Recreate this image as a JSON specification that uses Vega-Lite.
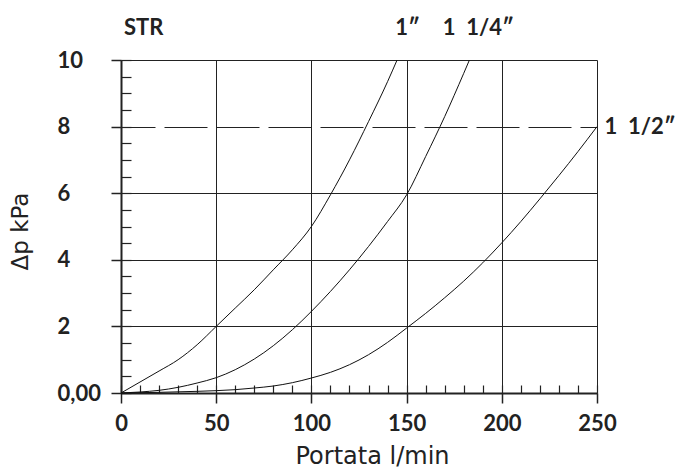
{
  "$schema": "https://vega.github.io/schema/vega-lite/v6.json",
  "width": 476,
  "height": 333,
  "autosize": {"type": "none"},
  "padding": {"left": 121, "top": 60, "right": 87, "bottom": 76},
  "background": "white",
  "config": {"font": "Lato", "view": {"stroke": null}},
  "datasets": {
    "curves": [
      {"size": "1″", "q": 0, "dp": 0}, {"size": "1″", "q": 10, "dp": 0.33}, {"size": "1″", "q": 20, "dp": 0.66},
      {"size": "1″", "q": 30, "dp": 1.0}, {"size": "1″", "q": 40, "dp": 1.45}, {"size": "1″", "q": 50, "dp": 2.0},
      {"size": "1″", "q": 60, "dp": 2.55}, {"size": "1″", "q": 70, "dp": 3.1}, {"size": "1″", "q": 80, "dp": 3.7},
      {"size": "1″", "q": 90, "dp": 4.3}, {"size": "1″", "q": 100, "dp": 5.0}, {"size": "1″", "q": 110, "dp": 5.95},
      {"size": "1″", "q": 120, "dp": 7.0}, {"size": "1″", "q": 130, "dp": 8.15}, {"size": "1″", "q": 140, "dp": 9.35},
      {"size": "1″", "q": 145, "dp": 10},
      {"size": "1 1/4″", "q": 0, "dp": 0}, {"size": "1 1/4″", "q": 10, "dp": 0.03}, {"size": "1 1/4″", "q": 20, "dp": 0.08},
      {"size": "1 1/4″", "q": 30, "dp": 0.17}, {"size": "1 1/4″", "q": 40, "dp": 0.3}, {"size": "1 1/4″", "q": 50, "dp": 0.46},
      {"size": "1 1/4″", "q": 60, "dp": 0.7}, {"size": "1 1/4″", "q": 70, "dp": 1.02}, {"size": "1 1/4″", "q": 80, "dp": 1.42},
      {"size": "1 1/4″", "q": 90, "dp": 1.9}, {"size": "1 1/4″", "q": 100, "dp": 2.45}, {"size": "1 1/4″", "q": 110, "dp": 3.05},
      {"size": "1 1/4″", "q": 120, "dp": 3.7}, {"size": "1 1/4″", "q": 130, "dp": 4.4}, {"size": "1 1/4″", "q": 140, "dp": 5.15},
      {"size": "1 1/4″", "q": 150, "dp": 5.95}, {"size": "1 1/4″", "q": 160, "dp": 7.1}, {"size": "1 1/4″", "q": 170, "dp": 8.3},
      {"size": "1 1/4″", "q": 180, "dp": 9.6}, {"size": "1 1/4″", "q": 183, "dp": 10},
      {"size": "1 1/2″", "q": 0, "dp": 0}, {"size": "1 1/2″", "q": 10, "dp": 0.01}, {"size": "1 1/2″", "q": 20, "dp": 0.02},
      {"size": "1 1/2″", "q": 30, "dp": 0.035}, {"size": "1 1/2″", "q": 40, "dp": 0.05}, {"size": "1 1/2″", "q": 50, "dp": 0.07},
      {"size": "1 1/2″", "q": 60, "dp": 0.1}, {"size": "1 1/2″", "q": 70, "dp": 0.15}, {"size": "1 1/2″", "q": 80, "dp": 0.21},
      {"size": "1 1/2″", "q": 90, "dp": 0.31}, {"size": "1 1/2″", "q": 100, "dp": 0.45}, {"size": "1 1/2″", "q": 110, "dp": 0.62},
      {"size": "1 1/2″", "q": 120, "dp": 0.85}, {"size": "1 1/2″", "q": 130, "dp": 1.15}, {"size": "1 1/2″", "q": 140, "dp": 1.52},
      {"size": "1 1/2″", "q": 150, "dp": 1.95}, {"size": "1 1/2″", "q": 160, "dp": 2.39}, {"size": "1 1/2″", "q": 170, "dp": 2.86},
      {"size": "1 1/2″", "q": 180, "dp": 3.36}, {"size": "1 1/2″", "q": 190, "dp": 3.91}, {"size": "1 1/2″", "q": 200, "dp": 4.51},
      {"size": "1 1/2″", "q": 210, "dp": 5.15}, {"size": "1 1/2″", "q": 220, "dp": 5.83}, {"size": "1 1/2″", "q": 230, "dp": 6.53},
      {"size": "1 1/2″", "q": 240, "dp": 7.25}, {"size": "1 1/2″", "q": 250, "dp": 8.0}
    ],
    "labels": [
      {"text": "STR", "q": 1.6, "dp": 10.96},
      {"text": "1″", "q": 144, "dp": 10.96},
      {"text": "1\u00a0 1/4″", "q": 169, "dp": 10.96},
      {"text": "1\u00a0 1/2″", "q": 254, "dp": 8.0}
    ]
  },
  "layer": [
    {
      "data": {"name": "curves"},
      "mark": {"type": "line", "interpolate": "monotone", "strokeWidth": 1, "color": "#111"},
      "encoding": {
        "x": {
          "field": "q", "type": "quantitative",
          "scale": {"domain": [0, 250], "nice": false, "zero": false},
          "axis": {
            "orient": "bottom",
            "values": [0, 50, 100, 150, 200, 250],
            "title": "Portata l/min",
            "titleFont": "DejaVu Sans", "titleFontSize": 24, "titleFontWeight": "normal", "titleColor": "#222",
            "titleX": 251, "titleY": 70, "titleBaseline": "alphabetic", "titleAlign": "center",
            "labelFont": "Lato", "labelFontSize": 22, "labelFontWeight": "bold", "labelColor": "#222",
            "labelPadding": 10, "labelFlush": false,
            "tickSize": 10, "tickColor": "#222", "tickWidth": 1.5,
            "domainColor": "#222", "domainWidth": 2,
            "grid": true, "gridColor": "#222", "gridWidth": 1, "gridOpacity": 1
          }
        },
        "y": {
          "field": "dp", "type": "quantitative",
          "scale": {"domain": [0, 10], "nice": false},
          "axis": {
            "orient": "left",
            "values": [0, 2, 4, 6, 8, 10],
            "title": "Δp kPa",
            "titleFont": "DejaVu Sans", "titleFontSize": 23, "titleFontWeight": "normal", "titleColor": "#222",
            "titleX": -101, "titleY": 171, "titleBaseline": "middle", "titleAlign": "center", "titleAngle": -90,
            "labelExpr": "datum.value == 0 ? '0,00' : datum.label",
            "labelFont": "Lato", "labelFontSize": 22, "labelFontWeight": "bold", "labelColor": "#222",
            "labelAlign": "left", "labelPadding": 54, "labelFlush": false,
            "tickSize": 10, "tickColor": "#222", "tickWidth": 1.5,
            "domainColor": "#222", "domainWidth": 2,
            "grid": true, "gridColor": "#222", "gridWidth": 1, "gridOpacity": 1,
            "gridDash": {"condition": {"test": "datum.value === 8", "value": [43, 9]}, "value": []},
            "gridDashOffset": 9
          }
        },
        "detail": {"field": "size", "type": "nominal"}
      }
    },
    {
      "data": {"name": "labels"},
      "mark": {"type": "text", "align": "left", "baseline": "middle", "font": "Lato", "fontSize": 22, "fontWeight": "bold", "color": "#222", "clip": false},
      "encoding": {
        "x": {
          "field": "q", "type": "quantitative",
          "axis": {
            "orient": "top", "offset": -333,
            "values": [0, 10, 20, 30, 40, 50, 60, 70, 80, 90, 100, 110, 120, 130, 140, 150, 160, 170, 180, 190, 200, 210, 220, 230, 240, 250],
            "labels": false, "domain": false, "grid": false, "title": null,
            "tickSize": 8, "tickColor": "#222", "tickWidth": 1.2
          }
        },
        "y": {
          "field": "dp", "type": "quantitative",
          "axis": {
            "orient": "right", "offset": -476,
            "values": [0, 0.5, 1, 1.5, 2, 2.5, 3, 3.5, 4, 4.5, 5, 5.5, 6, 6.5, 7, 7.5, 8, 8.5, 9, 9.5, 10],
            "labels": false, "domain": false, "grid": false, "title": null,
            "tickSize": 10, "tickColor": "#222", "tickWidth": 1.2
          }
        },
        "text": {"field": "text", "type": "nominal"}
      }
    }
  ],
  "resolve": {"axis": {"x": "independent", "y": "independent"}}
}
